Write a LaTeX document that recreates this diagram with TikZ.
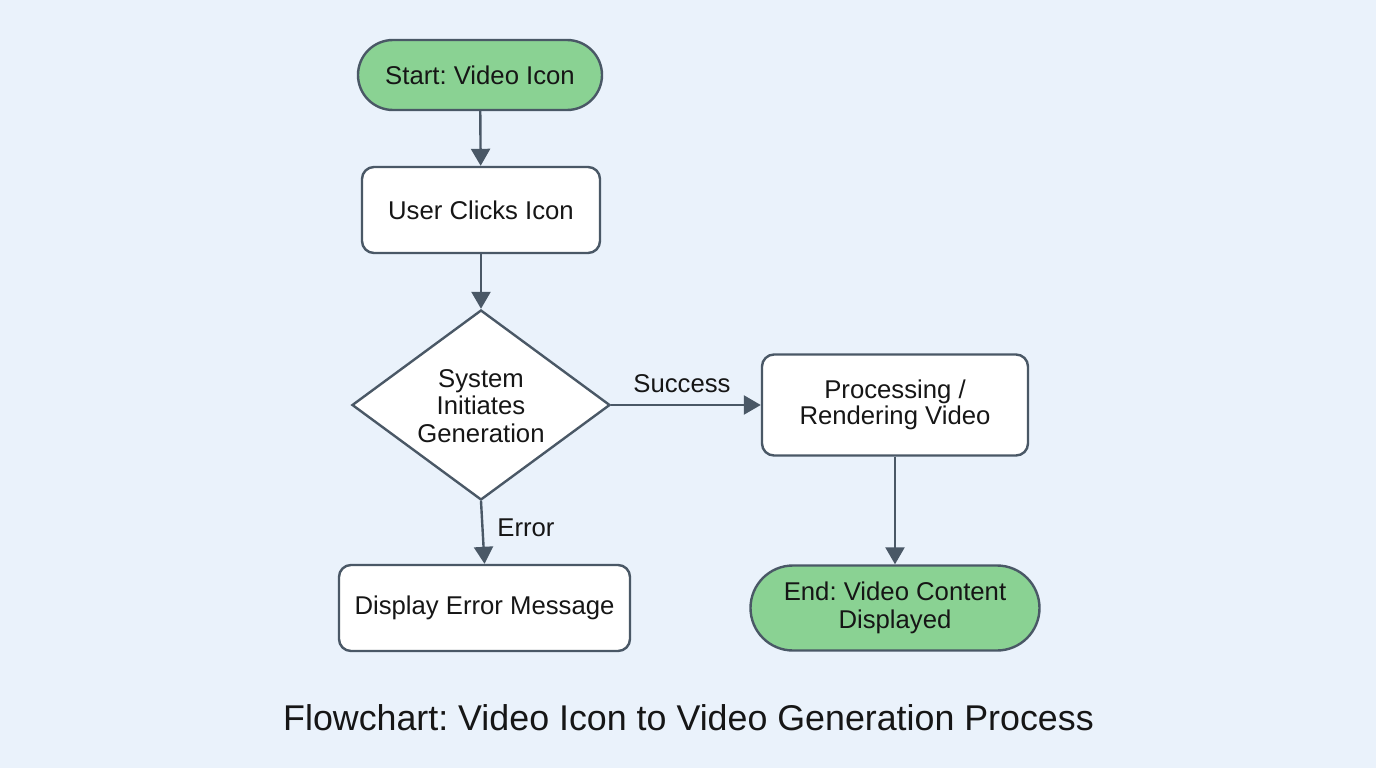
\documentclass[tikz,border=0pt]{standalone}
\usepackage{fontspec}
\setmainfont{Liberation Sans}
\usetikzlibrary{shapes.geometric,shapes.misc,arrows.meta}
\definecolor{bg}{HTML}{EAF2FB}
\definecolor{edge}{HTML}{4A5866}
\definecolor{startfill}{HTML}{8AD293}
\definecolor{txt}{HTML}{161616}
\frenchspacing
\tikzset{
  base/.style={draw=edge,line width=2.4pt,text=txt,font=\fontsize{25.7}{28}\selectfont,align=center,inner sep=0pt},
  pill/.style={base,rounded rectangle,fill=startfill},
  procbox/.style={base,rectangle,rounded corners=12pt,fill=white},
  decision/.style={base,diamond,fill=white},
  conn/.style={draw=edge,line width=2.4pt,-{Triangle[width=19pt,length=17pt]}},
  lbl/.style={text=txt,font=\fontsize{25.7}{28}\selectfont}
}
\begin{document}
\begin{tikzpicture}[x=1pt,y=-1pt]
\fill[bg] (0,0) rectangle (1376,768);
\useasboundingbox (0,0) rectangle (1376,768);
\node[pill,minimum width=244pt,minimum height=70pt] (start) at (480,75) {Start: Video Icon};
\node[procbox,minimum width=238pt,minimum height=86pt] (user) at (481,210) {User Clicks Icon};
\node[decision,minimum width=258pt,minimum height=190pt,aspect=1.36] (sys) at (481,405) {};
\node[lbl,align=center,font=\fontsize{25.7}{27.5}\selectfont] (systxt) at (481,406) {System\\Initiates\\Generation};
\node[procbox,minimum width=266pt,minimum height=101pt] (proc) at (895,405) {\raisebox{-2pt}{\shortstack{Processing /\\[-1pt]Rendering Video}}};
\node[procbox,minimum width=291pt,minimum height=86pt] (err) at (484.5,608) {Display Error Message};
\node[pill,minimum width=289pt,minimum height=85pt] (end) at (895,608) {End: Video Content\\Displayed};
\draw[conn] (start) -- (user);
\draw[conn] (user) -- (sys);
\draw[conn] (sys.east) -- (proc.west) node[lbl,midway,above=8pt,xshift=-4pt] (succ) {Success};
\draw[conn] (sys.south) -- (err.north);
\node[lbl] (errl) at (526,528) {Error};
\draw[conn] (proc) -- (end);
\node[text=txt,font=\fontsize{35.8}{40}\selectfont] (title) at (688.5,718) {Flowchart: Video Icon to Video Generation Process};
\end{tikzpicture}
\end{document}
